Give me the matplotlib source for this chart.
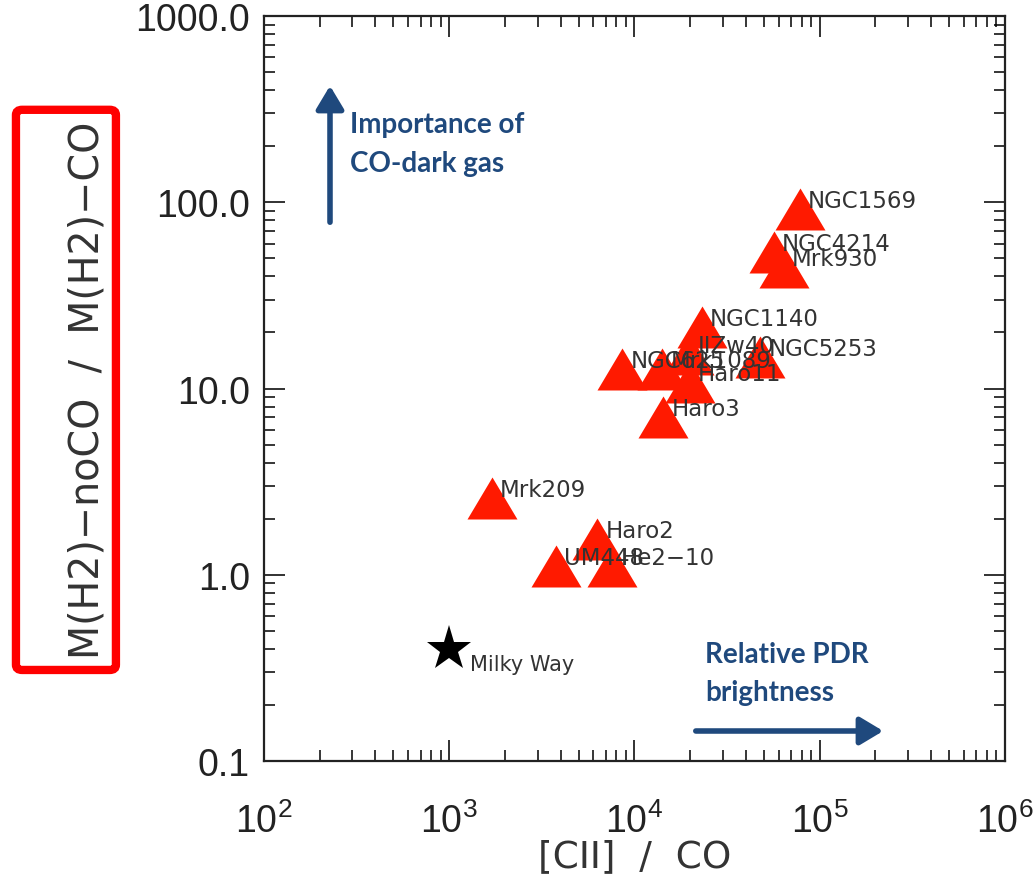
import matplotlib
matplotlib.use("Agg")
import matplotlib.pyplot as plt
from matplotlib.patches import FancyBboxPatch, FancyArrowPatch
from matplotlib.ticker import LogLocator, FixedLocator, NullFormatter

plt.rcParams['font.family'] = ['Liberation Sans', 'DejaVu Sans']
plt.rcParams['mathtext.fontset'] = 'custom'
plt.rcParams['mathtext.rm'] = 'Liberation Sans'
plt.rcParams['mathtext.it'] = 'Liberation Sans'

# Dwarf galaxies: [CII]/CO ratio vs CO-dark molecular gas fraction
galaxies = ["NGC1569", "NGC4214", "Mrk930", "NGC1140", "NGC5253", "IIZw40",
            "NGC625", "Mrk1089", "Haro11", "Haro3", "Mrk209", "Haro2",
            "UM448", "He2\u221210"]
cii_co = [78200, 56600, 64100, 23100, 47600, 19700,
          8570, 14100, 19900, 14300, 1700, 6280,
          3770, 7560]
h2_ratio = [92.3, 54.2, 45.1, 21.5, 14.8, 15.4,
            12.8, 12.8, 10.9, 7.05, 2.59, 1.56,
            1.12, 1.12]

mw_name = "Milky Way"
mw_cii_co = 1000
mw_h2_ratio = 0.40

y_ticks = [0.1, 1.0, 10.0, 100.0, 1000.0]
y_ticklabels = ["0.1", "1.0", "10.0", "100.0", "1000.0"]
x_ticks = [1e2, 1e3, 1e4, 1e5, 1e6]
x_ticklabels = [r"$10^{2}$", r"$10^{3}$", r"$10^{4}$", r"$10^{5}$", r"$10^{6}$"]

fig = plt.figure(figsize=(10.36, 8.78), dpi=100)
ax = fig.add_axes([0.2548, 0.1321, 0.7152, 0.8485])
ax.set_xscale('log')
ax.set_yscale('log')
ax.set_xlim(1e2, 1e6)
ax.set_ylim(0.1, 1000)

tri = [(-1, -0.84), (1, -0.84), (0, 0.84)]
ax.plot(cii_co, h2_ratio, linestyle='none', marker=tri, markersize=36,
        color='#ff1a00', markeredgewidth=0, zorder=3)
ax.plot([mw_cii_co], [mw_h2_ratio], linestyle='none', marker='*',
        markersize=34, color='black', markeredgewidth=0, zorder=3)

for name, xv, yv in zip(galaxies, cii_co, h2_ratio):
    ax.annotate(name, (xv, yv), xytext=(6, 6), textcoords='offset points',
                fontsize=16.5, color='#333333', ha='left', va='center',
                family=['DejaVu Sans'], zorder=4)
ax.annotate(mw_name, (mw_cii_co, mw_h2_ratio), xytext=(15, -11),
            textcoords='offset points', fontsize=15, color='#333333',
            ha='left', va='center', family=['DejaVu Sans'], zorder=4)

ax.xaxis.set_major_locator(FixedLocator(x_ticks))
ax.set_xticklabels(x_ticklabels)
ax.yaxis.set_major_locator(FixedLocator(y_ticks))
ax.set_yticklabels(y_ticklabels)
ax.xaxis.set_minor_locator(LogLocator(base=10, subs=range(2, 10), numticks=20))
ax.yaxis.set_minor_locator(LogLocator(base=10, subs=range(2, 10), numticks=20))
ax.xaxis.set_minor_formatter(NullFormatter())
ax.yaxis.set_minor_formatter(NullFormatter())
ax.tick_params(which='major', direction='in', length=15, width=1.3,
               top=True, right=True, labelsize=27, colors='#222222')
ax.tick_params(axis='y', which='major', pad=10)
ax.tick_params(axis='x', which='major', pad=30)
ax.tick_params(which='minor', direction='in', length=8, width=1.1,
               top=True, right=True)
for s in ax.spines.values():
    s.set_linewidth(1.6)
    s.set_color('#222222')

# axis titles
fig.text(635 / 1036, 1 - 857 / 878, "[CII]  /  CO", fontsize=27,
         color='#333333', ha='center', va='center', family=['DejaVu Sans'])
fig.text(0.084, 1 - 390 / 878, "M(H2)\u2212noCO  /  M(H2)\u2212CO",
         rotation=90, fontsize=28.5, color='#333333', ha='center',
         va='center', family=['DejaVu Sans'])

# red frame around the y-axis title
frame = FancyBboxPatch((0.0154, 0.2358), 0.0965, 0.638,
                       boxstyle="round,pad=0,rounding_size=0.006",
                       transform=fig.transFigure, fill=False,
                       edgecolor='#ff0000', linewidth=6, zorder=5)
fig.patches.append(frame)

navy = '#1f497d'
# annotation arrows
fig.add_artist(FancyArrowPatch(
    (330 / 1036, 1 - 226 / 878), (330 / 1036, 1 - 84 / 878),
    transform=fig.transFigure, arrowstyle='-|>,head_length=10,head_width=6',
    color=navy, linewidth=4, mutation_scale=1.4))
fig.add_artist(FancyArrowPatch(
    (693 / 1036, 1 - 732 / 878), (886 / 1036, 1 - 732 / 878),
    transform=fig.transFigure, arrowstyle='-|>,head_length=10,head_width=6',
    color=navy, linewidth=4, mutation_scale=1.4))
note_kw = dict(fontsize=20, fontweight='bold', color=navy,
               family=['Lato', 'DejaVu Sans'], ha='left', va='center')
fig.text(350 / 1036, 1 - 125 / 878, "Importance of", **note_kw)
fig.text(350 / 1036, 1 - 164 / 878, "CO-dark gas", **note_kw)
fig.text(705 / 1036, 1 - 655 / 878, "Relative PDR", **note_kw)
fig.text(705 / 1036, 1 - 693 / 878, "brightness", **note_kw)

fig.savefig("out.png", dpi=100, facecolor='white')
